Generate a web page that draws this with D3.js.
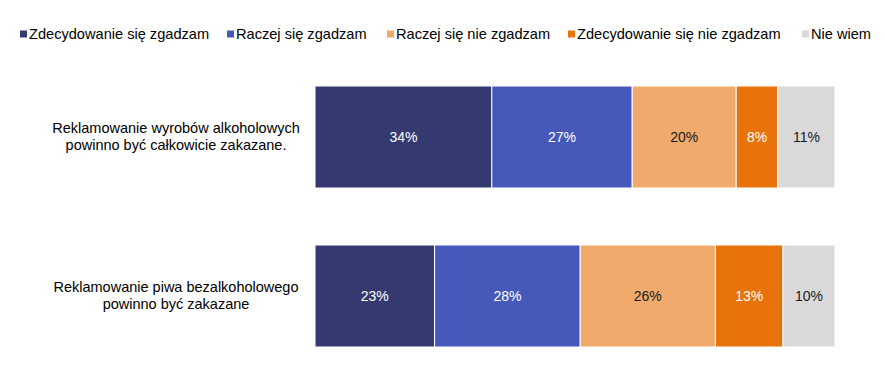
<!DOCTYPE html>
<html>
<head>
<meta charset="utf-8">
<script src="https://cdn.jsdelivr.net/npm/d3@7"></script>
<style>
  body { margin: 0; background: #fff; }
  text { font-family: "Liberation Sans", Arial, sans-serif; }
</style>
</head>
<body>
<svg id="chart" width="885" height="375"></svg>
<script>
// Data
const categories = [
  ['Reklamowanie wyrobów alkoholowych', 'powinno być całkowicie zakazane.'],
  ['Reklamowanie piwa bezalkoholowego', 'powinno być zakazane']
];
const seriesNames = ['Zdecydowanie się zgadzam', 'Raczej się zgadzam', 'Raczej się nie zgadzam',
                     'Zdecydowanie się nie zgadzam', 'Nie wiem'];
const values = [
  [34, 27, 20, 8, 11],
  [23, 28, 26, 13, 10]
];

const colors = ['#343a70', '#4659bb', '#f0aa6b', '#e8730b', '#d9d9d9'];
const labelColors = ['#fff', '#fff', '#1a1a1a', '#fff', '#1a1a1a'];

const svg = d3.select('#chart');

const x = d3.scaleLinear().domain([0, 100]).range([315, 835]);
const y = d3.scaleBand()
  .domain(d3.range(categories.length))
  .range([29, 404])
  .paddingInner(0.3585)
  .paddingOuter(0.3585);

// stacked rows
const stack = d3.stack().keys(d3.range(seriesNames.length))(values);

stack.forEach((layer, si) => {
  const g = svg.append('g');
  g.selectAll('rect')
    .data(layer)
    .enter()
    .append('rect')
      .attr('x', d => x(d[0]))
      .attr('y', (d, i) => y(i))
      .attr('width', d => x(d[1]) - x(d[0]))
      .attr('height', y.bandwidth())
      .attr('fill', colors[si])
      .attr('stroke', '#fff')
      .attr('stroke-width', 1);

  g.selectAll('text')
    .data(layer)
    .enter()
    .append('text')
      .attr('x', d => (x(d[0]) + x(d[1])) / 2)
      .attr('y', (d, i) => y(i) + y.bandwidth() / 2)
      .attr('dy', '0.35em')
      .attr('text-anchor', 'middle')
      .attr('font-size', 14)
      .attr('fill', labelColors[si])
      .text((d, i) => values[i][si] + '%');
});

// category labels
svg.selectAll('.cat')
  .data(categories)
  .enter()
  .append('text')
    .attr('class', 'cat')
    .attr('x', 176)
    .attr('y', (d, i) => y(i) + y.bandwidth() / 2)
    .attr('text-anchor', 'middle')
    .attr('font-size', 14.5)
    .attr('fill', '#000')
  .selectAll('tspan')
  .data(d => d)
  .enter()
  .append('tspan')
    .attr('x', 176)
    .attr('dy', (d, i) => i === 0 ? '-0.25em' : '1.15em')
    .text(d => d);

// legend
const legendX = [20, 227, 387, 568, 802];
const legend = svg.selectAll('.legend')
  .data(seriesNames)
  .enter()
  .append('g')
    .attr('class', 'legend')
    .attr('transform', (d, i) => `translate(${legendX[i]}, 34)`);

legend.append('rect')
  .attr('x', 0)
  .attr('y', -3.5)
  .attr('width', 7)
  .attr('height', 7)
  .attr('fill', (d, i) => colors[i]);

legend.append('text')
  .attr('x', 9)
  .attr('dy', '0.35em')
  .attr('font-size', 14.6)
  .attr('fill', '#000')
  .text(d => d);
</script>
</body>
</html>
